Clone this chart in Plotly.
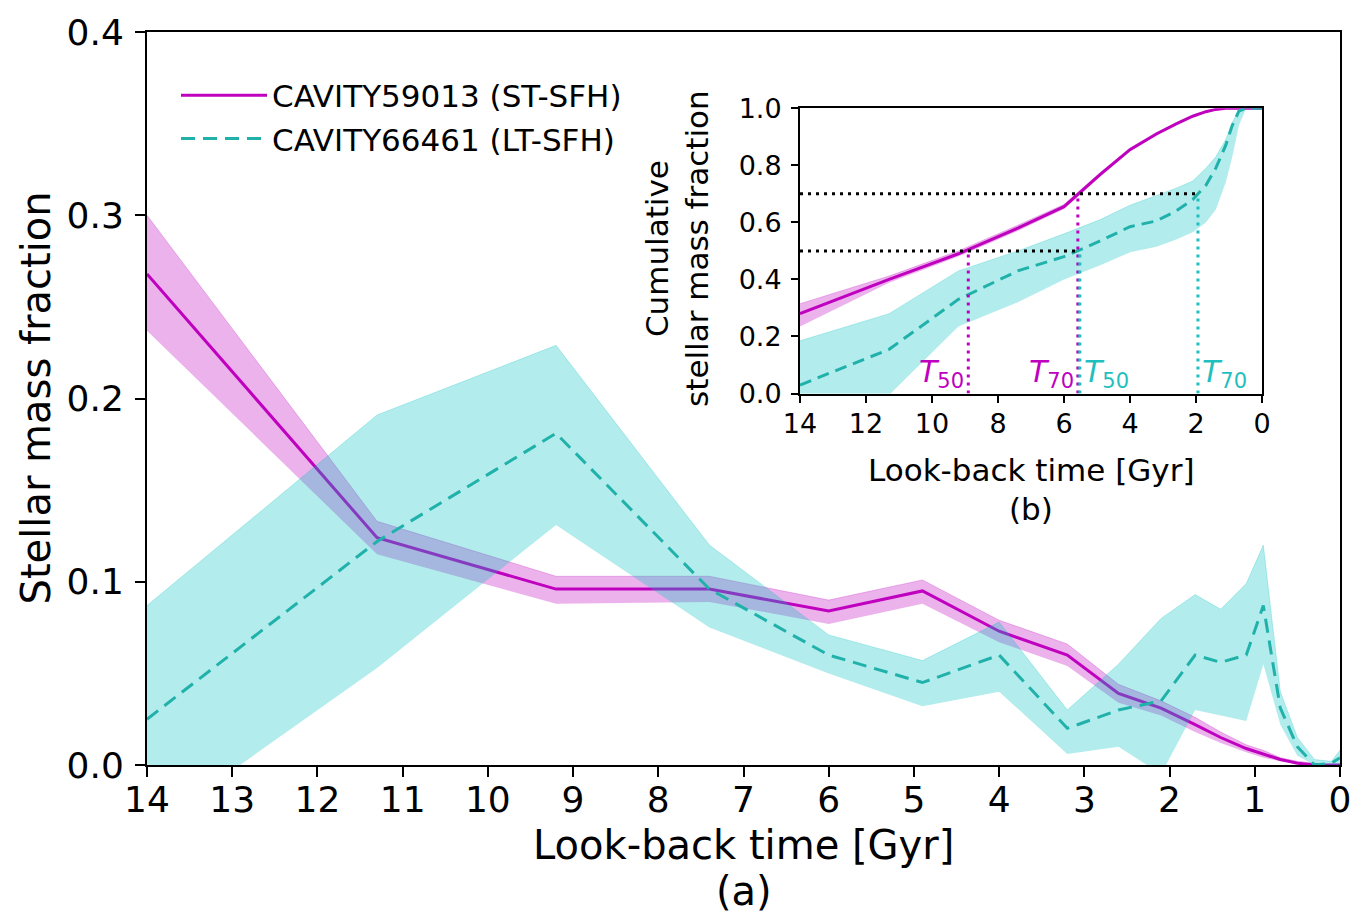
import plotly.graph_objects as go

# ---------------- data ----------------
ages = [14.0, 11.3, 9.2, 7.4, 6.0, 4.9, 4.0, 3.2, 2.6, 2.1, 1.7, 1.4, 1.1, 0.9, 0.7, 0.5, 0.3, 0.1, 0.0]

# panel (a): stellar mass fraction per age bin
st_frac = [0.268, 0.124, 0.096, 0.096, 0.084, 0.095, 0.073, 0.060, 0.039, 0.031, 0.022, 0.015, 0.009, 0.006, 0.003, 0.001, 0.0, 0.0, 0.0]
st_hi   = [0.300, 0.133, 0.103, 0.103, 0.090, 0.101, 0.079, 0.066, 0.044, 0.035, 0.026, 0.018, 0.011, 0.008, 0.004, 0.002, 0.001, 0.0, 0.0]
st_lo   = [0.237, 0.115, 0.088, 0.089, 0.077, 0.088, 0.067, 0.054, 0.034, 0.027, 0.018, 0.012, 0.007, 0.004, 0.002, 0.0005, 0.0, 0.0, 0.0]

lt_frac = [0.025, 0.122, 0.181, 0.096, 0.060, 0.045, 0.060, 0.020, 0.030, 0.035, 0.060, 0.056, 0.060, 0.087, 0.031, 0.010, 0.0, 0.001, 0.004]
lt_hi   = [0.087, 0.191, 0.229, 0.120, 0.071, 0.057, 0.078, 0.030, 0.055, 0.080, 0.093, 0.085, 0.099, 0.120, 0.040, 0.015, 0.003, 0.002, 0.008]
lt_lo   = [-0.036, 0.053, 0.131, 0.075, 0.050, 0.032, 0.040, 0.006, 0.010, -0.005, 0.030, 0.027, 0.024, 0.055, 0.022, 0.005, 0.0, 0.0, 0.0]

# panel (b): cumulative stellar mass fraction
st_cum    = [0.280, 0.400, 0.490, 0.580, 0.655, 0.768, 0.855, 0.910, 0.945, 0.972, 0.988, 0.996, 1.0, 1.0, 1.0, 1.0, 1.0, 1.0, 1.0]
st_cum_hi = [0.315, 0.412, 0.500, 0.590, 0.663, 0.775, 0.861, 0.915, 0.949, 0.975, 0.990, 0.998, 1.0, 1.0, 1.0, 1.0, 1.0, 1.0, 1.0]
st_cum_lo = [0.235, 0.388, 0.480, 0.570, 0.647, 0.761, 0.849, 0.905, 0.941, 0.969, 0.986, 0.994, 0.999, 1.0, 1.0, 1.0, 1.0, 1.0, 1.0]

lt_cum    = [0.030, 0.155, 0.330, 0.430, 0.480, 0.535, 0.585, 0.605, 0.640, 0.680, 0.730, 0.790, 0.870, 0.940, 0.990, 1.0, 1.0, 1.0, 1.0]
lt_cum_hi = [0.185, 0.280, 0.430, 0.500, 0.560, 0.610, 0.660, 0.695, 0.720, 0.745, 0.790, 0.830, 0.890, 0.950, 0.995, 1.0, 1.0, 1.0, 1.0]
lt_cum_lo = [-0.120, -0.005, 0.235, 0.320, 0.400, 0.450, 0.495, 0.515, 0.540, 0.565, 0.600, 0.645, 0.740, 0.830, 0.940, 0.995, 1.0, 1.0, 1.0]

# characteristic times [Gyr]
t50_st, t70_st = 8.9, 5.58
t50_lt, t70_lt = 5.52, 1.94

x_ticks_main = list(range(0, 15))
y_ticks_main = [0.0, 0.1, 0.2, 0.3, 0.4]
x_ticks_in = [14, 12, 10, 8, 6, 4, 2, 0]
y_ticks_in = [0.0, 0.2, 0.4, 0.6, 0.8, 1.0]

# ---------------- style ----------------
MAG = "#bf00bf"
MAG_FILL = "rgba(191,0,191,0.30)"
CY_LINE = "#20b2aa"
CY_TXT = "#1fbfbf"
CY_FILL = "rgba(0,191,191,0.30)"
FONT = "DejaVu Sans"

W, H = 1367, 916
L, R, T, B = 147, 27, 25, 151
PW, PH = W - L - R, H - T - B

def px(xp):
    return (xp - L) / PW

def py(yp):
    return (H - B - yp) / PH

fig = go.Figure()

def band(x, lo, hi, fill, xa, ya):
    fig.add_trace(go.Scatter(x=x, y=lo, mode="lines", line=dict(width=0, color=fill),
                             showlegend=False, hoverinfo="skip", xaxis=xa, yaxis=ya))
    fig.add_trace(go.Scatter(x=x, y=hi, mode="lines", line=dict(width=0.8, color=fill),
                             fill="tonexty", fillcolor=fill,
                             showlegend=False, hoverinfo="skip", xaxis=xa, yaxis=ya))

# ---- main panel ----
band(ages, st_lo, st_hi, MAG_FILL, "x", "y")
fig.add_trace(go.Scatter(x=ages, y=st_frac, mode="lines", name="CAVITY59013 (ST-SFH)",
                         line=dict(color=MAG, width=3), xaxis="x", yaxis="y"))
band(ages, lt_lo, lt_hi, CY_FILL, "x", "y")
fig.add_trace(go.Scatter(x=ages, y=lt_frac, mode="lines", name="CAVITY66461 (LT-SFH)",
                         line=dict(color=CY_LINE, width=3, dash="14px,8px"), xaxis="x", yaxis="y"))

# ---- inset panel ----
band(ages, st_cum_lo, st_cum_hi, MAG_FILL, "x2", "y2")
fig.add_trace(go.Scatter(x=ages, y=st_cum, mode="lines", showlegend=False,
                         line=dict(color=MAG, width=3), xaxis="x2", yaxis="y2"))
band(ages, lt_cum_lo, lt_cum_hi, CY_FILL, "x2", "y2")
fig.add_trace(go.Scatter(x=ages, y=lt_cum, mode="lines", showlegend=False,
                         line=dict(color=CY_LINE, width=3, dash="12px,7px"), xaxis="x2", yaxis="y2"))

dot = "3px,5px"
# horizontal reference lines
fig.add_trace(go.Scatter(x=[14, t70_lt], y=[0.7, 0.7], mode="lines", showlegend=False,
                         line=dict(color="black", width=3, dash=dot), xaxis="x2", yaxis="y2"))
fig.add_trace(go.Scatter(x=[14, t50_lt], y=[0.5, 0.5], mode="lines", showlegend=False,
                         line=dict(color="black", width=3, dash=dot), xaxis="x2", yaxis="y2"))
# vertical markers
for t, lvl, col in [(t50_st, 0.5, MAG), (t70_st, 0.7, MAG), (t50_lt, 0.5, CY_TXT), (t70_lt, 0.7, CY_TXT)]:
    fig.add_trace(go.Scatter(x=[t, t], y=[0, lvl], mode="lines", showlegend=False,
                             line=dict(color=col, width=3, dash=dot), xaxis="x2", yaxis="y2"))

axis_common = dict(showline=True, linecolor="black", linewidth=2, mirror=True,
                   ticks="outside", tickcolor="black", showgrid=False, zeroline=False)

fig.update_layout(
    width=W, height=H,
    margin=dict(l=L, r=R, t=T, b=B),
    paper_bgcolor="white", plot_bgcolor="white",
    font=dict(family=FONT, color="black"),
    xaxis=dict(domain=[0, 1], range=[14, 0], tickvals=x_ticks_main, ticktext=[str(v) for v in x_ticks_main],
               tickfont=dict(size=36), ticklen=10, tickwidth=2, ticklabelstandoff=-8, **axis_common),
    yaxis=dict(domain=[0, 1], range=[0, 0.4], tickvals=y_ticks_main, ticktext=[f"{v:.1f}" for v in y_ticks_main],
               tickfont=dict(size=36), ticklen=10, tickwidth=2, ticklabelstandoff=4, **axis_common),
    xaxis2=dict(domain=[px(800), px(1262)], anchor="y2", range=[14, 0], tickvals=x_ticks_in,
                ticktext=[str(v) for v in x_ticks_in], tickfont=dict(size=27), ticklen=7, tickwidth=2,
                ticklabelstandoff=-2, **axis_common),
    yaxis2=dict(domain=[py(390), py(102)], anchor="x2", range=[0, 1.0], tickvals=y_ticks_in,
                ticktext=[f"{v:.1f}" for v in y_ticks_in], tickfont=dict(size=27), ticklen=7, tickwidth=2,
                ticklabelstandoff=4, **axis_common),
    legend=dict(x=px(176), y=py(62), xanchor="left", yanchor="top", bgcolor="rgba(255,255,255,0)",
                font=dict(size=31), itemwidth=86, traceorder="normal", tracegroupgap=0),
    showlegend=True,
)

ann = []
ann.append(dict(text="Look-back time [Gyr]", x=0.5, y=py(846), xref="paper", yref="paper",
                showarrow=False, font=dict(size=40), xanchor="center", yanchor="middle"))
ann.append(dict(text="(a)", x=0.5, y=py(892), xref="paper", yref="paper",
                showarrow=False, font=dict(size=40), xanchor="center", yanchor="middle"))
ann.append(dict(text="Stellar mass fraction", x=px(35), y=py(395), xref="paper", yref="paper",
                showarrow=False, font=dict(size=40), textangle=-90, xanchor="center", yanchor="middle"))
cx_in = px((800 + 1262) / 2)
ann.append(dict(text="Look-back time [Gyr]", x=cx_in, y=py(467), xref="paper", yref="paper",
                showarrow=False, font=dict(size=31), xanchor="center", yanchor="middle"))
ann.append(dict(text="(b)", x=cx_in, y=py(507), xref="paper", yref="paper",
                showarrow=False, font=dict(size=31), xanchor="center", yanchor="middle"))
ann.append(dict(text="Cumulative<br>stellar mass fraction", x=px(677), y=py(244), xref="paper", yref="paper",
                showarrow=False, font=dict(size=31), textangle=-90, xanchor="center", yanchor="middle"))
# T labels
for txt, t, anchor, col in [("<i>T</i><sub>50</sub>", t50_st, "right", MAG),
                            ("<i>T</i><sub>70</sub>", t70_st, "right", MAG),
                            ("<i>T</i><sub>50</sub>", t50_lt, "left", CY_TXT),
                            ("<i>T</i><sub>70</sub>", t70_lt, "left", CY_TXT)]:
    ann.append(dict(text=txt, x=t, y=0.07, xref="x2", yref="y2", showarrow=False,
                    font=dict(size=30, color=col), xanchor=anchor, yanchor="middle",
                    xshift=(-2 if anchor == "right" else 2)))
fig.update_layout(annotations=ann)

fig.write_html("out.html")
